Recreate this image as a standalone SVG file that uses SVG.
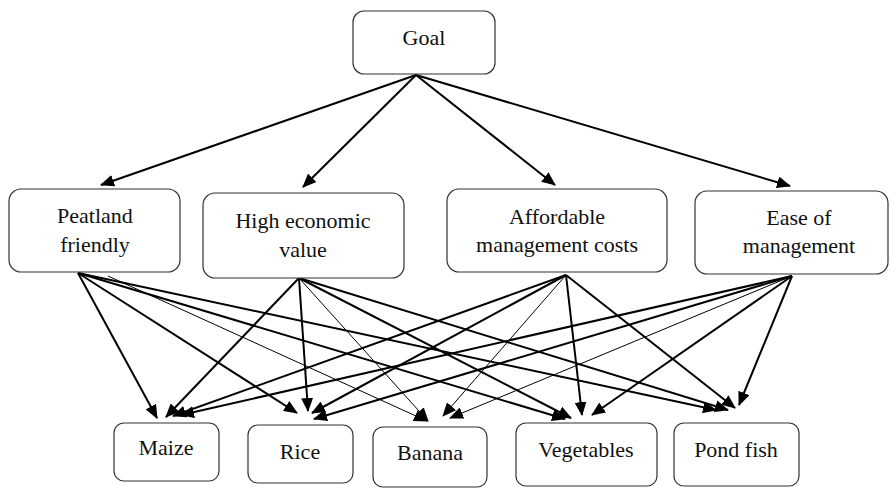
<svg xmlns="http://www.w3.org/2000/svg" width="891" height="488" viewBox="0 0 891 488">
<defs>
<marker id="ah" markerUnits="userSpaceOnUse" markerWidth="14" markerHeight="12" viewBox="0 0 14 12" refX="13" refY="6" orient="auto">
<path d="M0,0 L14,6 L0,12 Z" fill="#000"/>
</marker>
</defs>
<style>
.box{fill:#fff;stroke:#333;stroke-width:1.2}
.c{stroke:#000;stroke-width:2;fill:none;marker-end:url(#ah)}
.thin{stroke-width:1}
</style>
<rect width="891" height="488" fill="#fff"/>
<g id="connectors">
<line class="c" x1="416" y1="75" x2="101" y2="185"/>
<line class="c" x1="416" y1="75" x2="303" y2="187"/>
<line class="c" x1="416" y1="75" x2="555" y2="185"/>
<line class="c" x1="416" y1="75" x2="790" y2="186"/>

<line class="c" x1="78" y1="273" x2="157" y2="418"/>
<line class="c" x1="78" y1="273" x2="297" y2="413"/>
<line class="c thin" x1="108" y1="276" x2="427" y2="421"/>
<line class="c" x1="78" y1="273" x2="565" y2="419"/>
<line class="c" x1="78" y1="273" x2="716" y2="410"/>

<line class="c" x1="299" y1="278" x2="166" y2="417"/>
<line class="c" x1="299" y1="278" x2="308" y2="411"/>
<line class="c thin" x1="299" y1="278" x2="428" y2="421"/>
<line class="c" x1="299" y1="278" x2="571" y2="418"/>
<line class="c" x1="299" y1="278" x2="728" y2="410"/>

<line class="c" x1="566" y1="275" x2="173" y2="416"/>
<line class="c" x1="566" y1="275" x2="312" y2="413"/>
<line class="c thin" x1="566" y1="275" x2="443" y2="416"/>
<line class="c" x1="566" y1="275" x2="582" y2="415"/>
<line class="c" x1="566" y1="275" x2="735" y2="408"/>

<line class="c" x1="792" y1="276" x2="181" y2="415"/>
<line class="c" x1="792" y1="276" x2="314" y2="419"/>
<line class="c thin" x1="792" y1="276" x2="450" y2="418"/>
<line class="c" x1="792" y1="276" x2="592" y2="415"/>
<line class="c" x1="792" y1="276" x2="739" y2="405"/>
</g>
<g font-family="Liberation Serif, Times New Roman, serif" font-size="22" fill="#111" text-anchor="middle">
<g id="goal">
<rect class="box" x="353" y="11" width="142" height="63" rx="11"/>
<text x="424" y="45">Goal</text>
</g>
<g id="peatland">
<rect class="box" x="9" y="189" width="171" height="83" rx="12"/>
<text x="95" y="223">Peatland</text>
<text x="95" y="252">friendly</text>
</g>
<g id="high-economic">
<rect class="box" x="203" y="193" width="201" height="85" rx="12"/>
<text x="303" y="228">High economic</text>
<text x="303" y="257">value</text>
</g>
<g id="affordable">
<rect class="box" x="447" y="189" width="220" height="83" rx="12"/>
<text x="557" y="224">Affordable</text>
<text x="557" y="252">management costs</text>
</g>
<g id="ease">
<rect class="box" x="695" y="191" width="193" height="83" rx="12"/>
<text x="799" y="225">Ease of</text>
<text x="799" y="253">management</text>
</g>
<g id="maize">
<rect class="box" x="114" y="423" width="105" height="58" rx="10"/>
<text x="166" y="455">Maize</text>
</g>
<g id="rice">
<rect class="box" x="248" y="425" width="105" height="58" rx="10"/>
<text x="300" y="459">Rice</text>
</g>
<g id="banana">
<rect class="box" x="373" y="427" width="114" height="60" rx="10"/>
<text x="430" y="460">Banana</text>
</g>
<g id="vegetables">
<rect class="box" x="516" y="423" width="141" height="63" rx="10"/>
<text x="586" y="457">Vegetables</text>
</g>
<g id="pondfish">
<rect class="box" x="674" y="423" width="125" height="63" rx="10"/>
<text x="736" y="457">Pond fish</text>
</g>
</g>
</svg>
